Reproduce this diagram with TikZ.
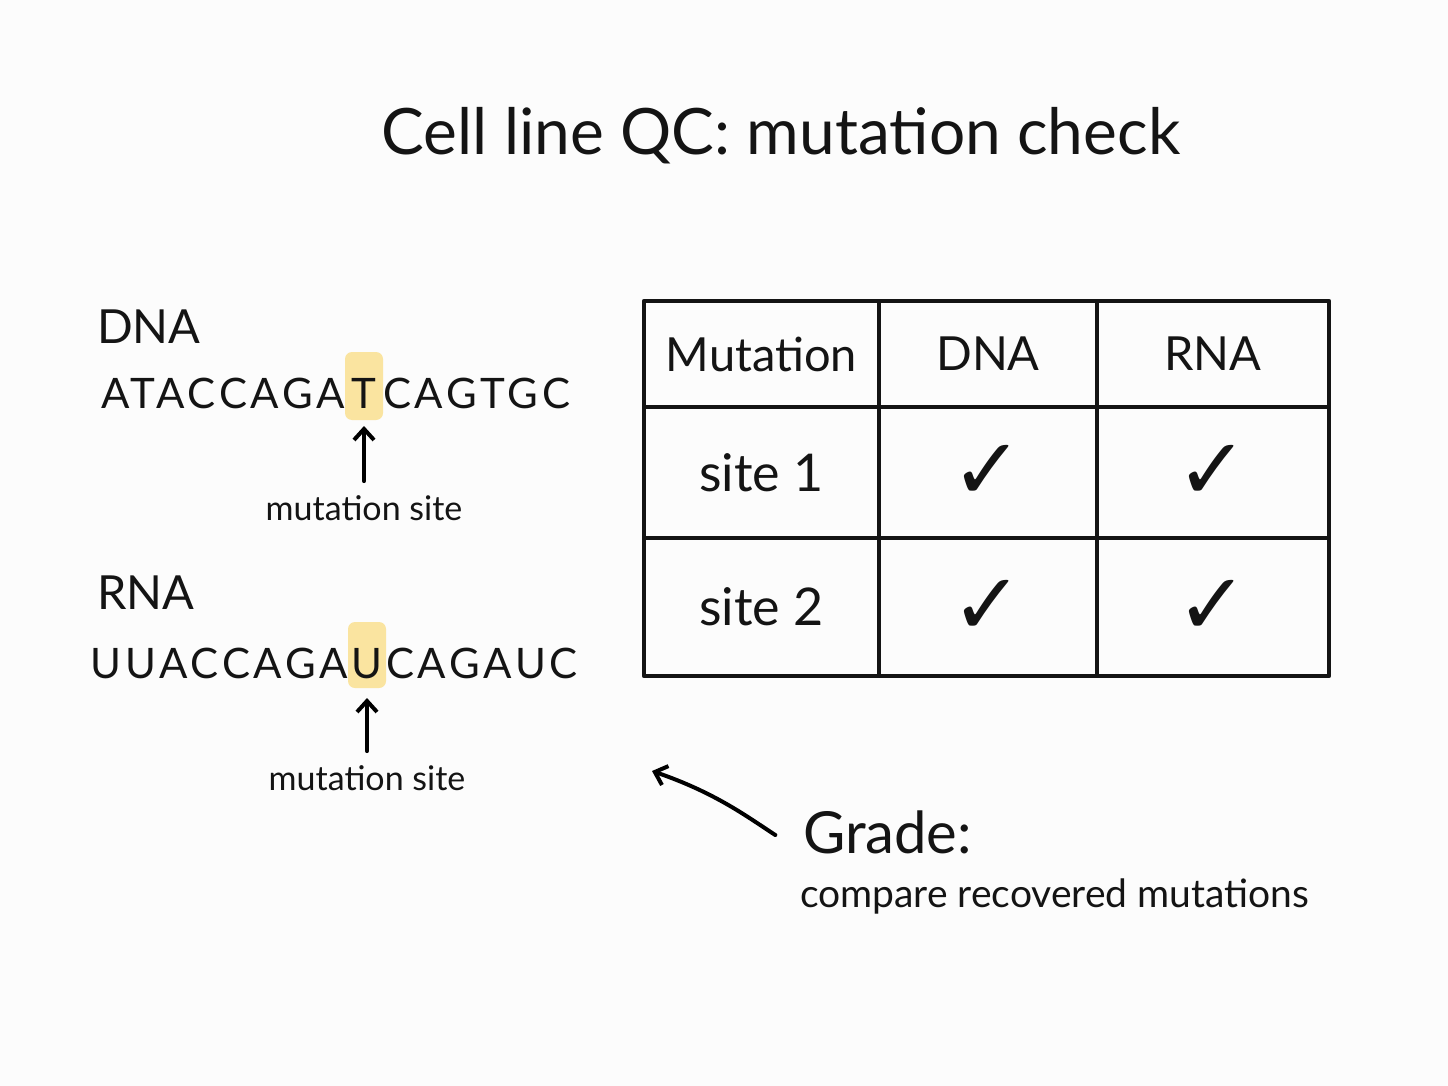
\documentclass[tikz,border=0pt]{standalone}
\usepackage{fontspec}
\usepackage{tikz}
\usetikzlibrary{arrows.meta}
\setmainfont{Lato}
\newfontfamily\symfont{DejaVu Sans}
\newfontfamily\seqfont[LetterSpace=9]{Lato}
\definecolor{hlyellow}{RGB}{250,228,160}
\definecolor{ink}{RGB}{20,20,20}

\begin{document}
\begin{tikzpicture}
            [x=1pt, y=-1pt, >={Straight Barb[length=11pt,width=20pt]}, line width=4pt, line cap=round, line join=round,
             every node/.style={text=ink, inner sep=0pt, outer sep=0pt},
             seq/.style={font=\seqfont\fontsize{42}{46}\selectfont},
             mut/.style={seq, fill=hlyellow, rounded corners=7pt, minimum width=38pt, anchor=base},
             note/.style={font=\fontsize{34}{38}\selectfont, anchor=base},
             cell/.style={draw=ink, line width=4.5pt, anchor=north west, font=\fontsize{52}{56}\selectfont},
             head/.style={font=\fontsize{47}{52}\selectfont},
             tick/.style={font=\symfont\fontsize{86}{90}\selectfont}]
            \path[fill=black!1] (0,0) rectangle (1448,1086);
            \node[font=\fontsize{64}{74}\selectfont, anchor=base] (title) at (781,155) {Cell line QC: mutation check};

            \node[font=\fontsize{47}{54}\selectfont, anchor=base west] (dnalabel) at (97,343) {DNA};
            \node[mut, text height=56pt, text depth=12pt] (dnamut) at (364,408) {T};
            \node[seq, anchor=base east] (dnaleft) at (dnamut.base west) {ATACCAGA};
            \node[seq, anchor=base west] (dnaright) at (dnamut.base east) {CAGTGC};
            \node[note] (dnasite) at (364,520) {mutation site};

            \node[font=\fontsize{47}{54}\selectfont, anchor=base west] (rnalabel) at (97,609) {RNA};
            \node[mut, text height=56pt, text depth=10pt] (rnamut) at (367,678) {U};
            \node[seq, anchor=base east] (rnaleft) at (rnamut.base west) {UUACCAGA};
            \node[seq, anchor=base west] (rnaright) at (rnamut.base east) {CAGAUC};
            \node[note] (rnasite) at (367,790) {mutation site};

            \node[cell, head, minimum width=235pt, minimum height=106pt] (hmut) at (644,301) {Mutation};
            \node[cell, head, minimum width=218pt, minimum height=106pt] (hdna) at (hmut.north east) {DNA};
            \node[cell, head, minimum width=232pt, minimum height=106pt] (hrna) at (hdna.north east) {RNA};
            \node[cell, minimum width=235pt, minimum height=131pt] (site1) at (hmut.south west) {site 1};
            \node[cell, minimum width=218pt, minimum height=131pt, tick] (site1dna) at (site1.north east) {✓};
            \node[cell, minimum width=232pt, minimum height=131pt, tick] (site1rna) at (site1dna.north east) {✓};
            \node[cell, minimum width=235pt, minimum height=138pt] (site2) at (site1.south west) {site 2};
            \node[cell, minimum width=218pt, minimum height=138pt, tick] (site2dna) at (site2.north east) {✓};
            \node[cell, minimum width=232pt, minimum height=138pt, tick] (site2rna) at (site2dna.north east) {✓};

            \node[font=\fontsize{58}{66}\selectfont, anchor=base west] (grade) at (803,853) {Grade:};
            \node[font=\fontsize{39}{44}\selectfont, anchor=base west] (compare) at (800,907) {compare recovered mutations};
            \coordinate (gradetip) at (652,771);

            \path [->] (dnasite) edge [shorten <=14pt, shorten >=6pt] (dnamut);
            \path [->] (rnasite) edge [shorten <=14pt, shorten >=10pt] (rnamut);
            \path [->] (grade.base west) edge [out=147, in=-19, shorten <=33pt] (gradetip);
        \end{tikzpicture}
\end{document}
